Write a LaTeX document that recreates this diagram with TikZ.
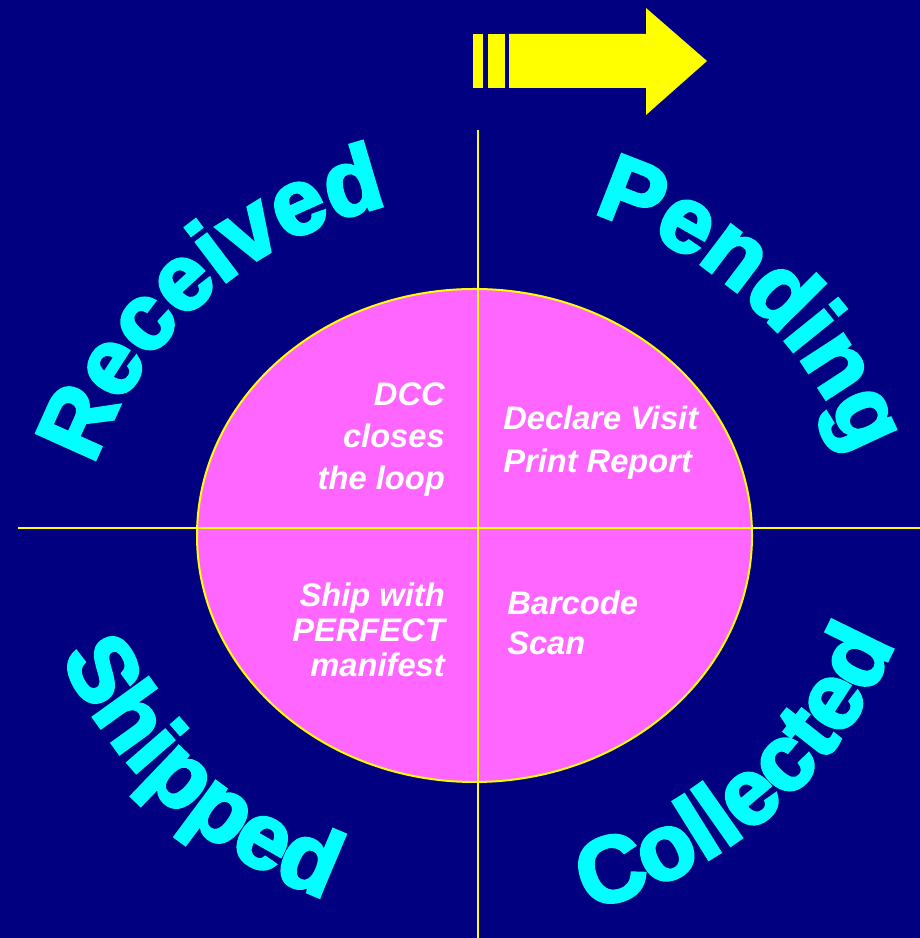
\documentclass[tikz,border=0pt]{standalone}
\usepackage{fontspec}
\setmainfont{Liberation Sans}
\newfontfamily\wordfont[FakeBold=3.5]{Liberation Sans Bold}
\usepackage{tikz}
\usetikzlibrary{decorations.text}
\definecolor{bgnavy}{RGB}{0,0,128}
\definecolor{discpink}{RGB}{255,102,255}
\definecolor{wordcyan}{RGB}{0,255,255}
\definecolor{lineyellow}{RGB}{255,255,0}

\begin{document}
\begin{tikzpicture}[x=0.75pt,y=0.75pt,
	axis/.style={lineyellow,line width=1.5pt},
	stage/.style={white,inner sep=0pt,font=\bfseries\itshape\fontsize{24.5}{#1}\selectfont},
	word/.style={decorate,decoration={text along path,text align=center,
		text color=wordcyan,text={|\wordfont\fontsize{70}{70}\selectfont|#1}}}]
	\useasboundingbox[fill=bgnavy] (0,0) rectangle (920,938);
	
	\coordinate (O) at (474.5,402.5);
	\coordinate (top) at (475,338);
	\coordinate (bot) at (475,468);
	\coordinate (N) at (477.5,808);
	\coordinate (S) at (477.5,0);
	\coordinate (W) at (18,410);
	\coordinate (E) at (920,410);
	
	% arrow
	\fill[lineyellow] (473,850) rectangle (483,904);
	\fill[lineyellow] (488,850) rectangle (505,904);
	\fill[lineyellow] (509,850) -- (646,850) -- (646,823) -- (707,877)
		-- (646,930) -- (646,904) -- (509,904) -- cycle;
	
	\filldraw[fill=discpink,draw=lineyellow,line width=1.5pt] (O) ellipse (277.5 and 246.5);
	\draw[axis] (N) -- (S);
	\draw[axis] (W) -- (E);
	
	\path[word=Received] (top) ++(171.5:404) arc (171.5:91.5:404);
	\path[word=Pending] (top) ++(87:404) arc (87:7:404);
	\path[word=Shipped] (bot) ++(187.5:454) arc (187.5:267.5:454);
	\path[word=Collected] (bot) ++(271:454) arc (271:351:454);
	
	% base anchor sits on the last line
	\node[stage=31.5,align=right,anchor=base east] (dcc) at (445,448) {DCC\\closes\\the loop};
	\node[stage=32.25,align=left,anchor=base west] (visit) at (503,465) {Declare Visit\\Print Report};
	\node[stage=26.25,align=right,anchor=base east] (ship) at (445,261) {Ship with\\PERFECT\\manifest};
	\node[stage=30,align=left,anchor=base west] (scan) at (507,283) {Barcode\\Scan};
\end{tikzpicture}
\end{document}
